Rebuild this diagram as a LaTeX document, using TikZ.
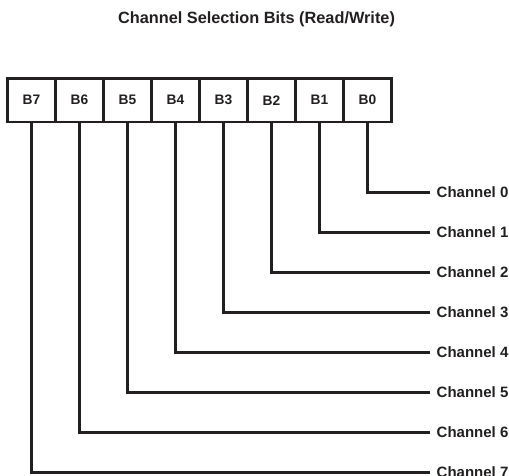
\documentclass[tikz,border=0pt]{standalone}
\usepackage{fontspec}
\setmainfont{Liberation Sans}
\usepackage{tikz}
\usetikzlibrary{arrows}
\definecolor{ink}{HTML}{231F20}

\begin{document}
\begin{tikzpicture}%
        [x=1pt,
        y=-1pt,
        bitbox/.style={draw=ink, line width=2.6pt, minimum width=48pt, minimum height=43.5pt, inner sep=0pt, font=\fontsize{13.8}{15}\selectfont\bfseries, text=ink},
        chlabel/.style={anchor=west, inner sep=6.5pt, font=\fontsize{15}{16}\selectfont\bfseries, text=ink},
        wire/.style={draw=ink, line width=2.2pt},
        heading/.style={font=\fontsize{16.3}{18}\selectfont\bfseries, text=ink}]
    %
    \useasboundingbox (0,0) rectangle (509,476);
    %
    %% Title
    \node[heading] (title) at (256.5,19) {Channel Selection Bits (Read/Write)};
    %%
    %% The register bits
    %%
    \node[bitbox] (b7) at (31.5,100.25) {B7};
    \node[bitbox] (b6) at (79.5,100.25) {B6};
    \node[bitbox] (b5) at (127.5,100.25) {B5};
    \node[bitbox] (b4) at (175.5,100.25) {B4};
    \node[bitbox] (b3) at (223.5,100.25) {B3};
    \node[bitbox] (b2) at (271.5,100.25) {B2};
    \node[bitbox] (b1) at (319.5,100.25) {B1};
    \node[bitbox] (b0) at (367.5,100.25) {B0};
    %%
    %% The channels
    %%
    \node[chlabel] (ch0) at (430,192.5) {Channel 0};
    \node[chlabel] (ch1) at (430,232.5) {Channel 1};
    \node[chlabel] (ch2) at (430,272.5) {Channel 2};
    \node[chlabel] (ch3) at (430,312.5) {Channel 3};
    \node[chlabel] (ch4) at (430,352.5) {Channel 4};
    \node[chlabel] (ch5) at (430,392.5) {Channel 5};
    \node[chlabel] (ch6) at (430,432.5) {Channel 6};
    \node[chlabel] (ch7) at (430,472.5) {Channel 7};
    %%
    %% Drawing the wires
    %%
    \draw[wire] (b0.south) |- (ch0.west);
    \draw[wire] (b1.south) |- (ch1.west);
    \draw[wire] (b2.south) |- (ch2.west);
    \draw[wire] (b3.south) |- (ch3.west);
    \draw[wire] (b4.south) |- (ch4.west);
    \draw[wire] (b5.south) |- (ch5.west);
    \draw[wire] (b6.south) |- (ch6.west);
    \draw[wire] (b7.south) |- (ch7.west);
    %%
\end{tikzpicture}
\end{document}
